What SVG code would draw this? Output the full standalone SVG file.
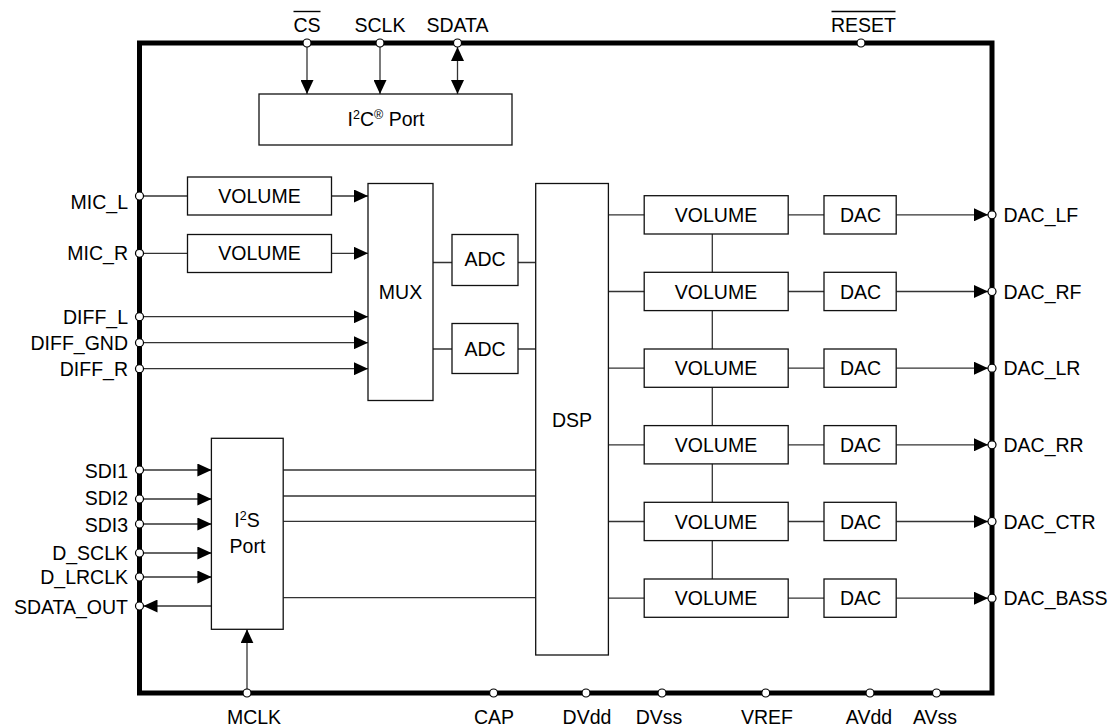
<svg xmlns="http://www.w3.org/2000/svg" width="1110" height="728" viewBox="0 0 1110 728">
<style>
text{font-family:"Liberation Sans",Arial,sans-serif;font-size:19.5px;fill:#000}
.m{text-anchor:middle}
.e{text-anchor:end}
.box{fill:#fff;stroke:#111;stroke-width:1.3}
.ln{stroke:#333;stroke-width:1.3;fill:none}
.arr{marker-end:url(#ah)}
.pin{fill:#fff;stroke:#000;stroke-width:1.2}
.ol{stroke:#000;stroke-width:1.4}
</style>
<defs>
<marker id="ah" viewBox="0 0 14 13" markerUnits="userSpaceOnUse" markerWidth="14" markerHeight="13" refX="14" refY="6.5" orient="auto-start-reverse">
<path d="M0,0 L14,6.5 L0,13 z" fill="#000"/>
</marker>
</defs>
<rect id="frame" x="139.5" y="43" width="852.5" height="650" fill="none" stroke="#000" stroke-width="5"/>
<g id="connectors">
<line class="ln arr" x1="307" y1="47" x2="307" y2="94"/>
<line class="ln arr" x1="380" y1="47" x2="380" y2="94"/>
<line class="ln arr" x1="457.5" y1="47" x2="457.5" y2="94" marker-start="url(#ah)"/>
<line class="ln" x1="143.5" y1="196" x2="187.5" y2="196"/>
<line class="ln arr" x1="331.5" y1="196" x2="368" y2="196"/>
<line class="ln" x1="143.5" y1="253.3" x2="187.5" y2="253.3"/>
<line class="ln arr" x1="331.5" y1="253.3" x2="368" y2="253.3"/>
<line class="ln arr" x1="143.5" y1="316.7" x2="368" y2="316.7"/>
<line class="ln arr" x1="143.5" y1="342.7" x2="368" y2="342.7"/>
<line class="ln arr" x1="143.5" y1="368.7" x2="368" y2="368.7"/>
<line class="ln" x1="433" y1="262.5" x2="535.7" y2="262.5"/>
<line class="ln" x1="433" y1="349" x2="535.7" y2="349"/>
<line class="ln" x1="712.3" y1="234" x2="712.3" y2="578.9"/>
<line class="ln" x1="608.4" y1="214.8" x2="824" y2="214.8"/>
<line class="ln" x1="608.4" y1="291.5" x2="824" y2="291.5"/>
<line class="ln" x1="608.4" y1="368.2" x2="824" y2="368.2"/>
<line class="ln" x1="608.4" y1="444.8" x2="824" y2="444.8"/>
<line class="ln" x1="608.4" y1="521.5" x2="824" y2="521.5"/>
<line class="ln" x1="608.4" y1="598.2" x2="824" y2="598.2"/>
<line class="ln arr" x1="896.2" y1="214.8" x2="988" y2="214.8"/>
<line class="ln arr" x1="896.2" y1="291.5" x2="988" y2="291.5"/>
<line class="ln arr" x1="896.2" y1="368.2" x2="988" y2="368.2"/>
<line class="ln arr" x1="896.2" y1="444.8" x2="988" y2="444.8"/>
<line class="ln arr" x1="896.2" y1="521.5" x2="988" y2="521.5"/>
<line class="ln arr" x1="896.2" y1="598.2" x2="988" y2="598.2"/>
<line class="ln arr" x1="143.5" y1="470" x2="211.4" y2="470"/>
<line class="ln arr" x1="143.5" y1="499" x2="211.4" y2="499"/>
<line class="ln arr" x1="143.5" y1="524" x2="211.4" y2="524"/>
<line class="ln arr" x1="143.5" y1="553" x2="211.4" y2="553"/>
<line class="ln arr" x1="143.5" y1="577" x2="211.4" y2="577"/>
<line class="ln arr" x1="211.4" y1="606" x2="143.5" y2="606"/>
<line class="ln" x1="283.2" y1="470" x2="535.7" y2="470"/>
<line class="ln" x1="283.2" y1="496" x2="535.7" y2="496"/>
<line class="ln" x1="283.2" y1="521.3" x2="535.7" y2="521.3"/>
<line class="ln" x1="283.2" y1="597.7" x2="535.7" y2="597.7"/>
<line class="ln arr" x1="247" y1="689" x2="247" y2="629.3"/>
</g>
<g id="i2c"><rect class="box" x="259" y="94" width="253" height="51"/><text class="m" x="386" y="126">I<tspan font-size="12.5" dy="-7">2</tspan><tspan dy="7">C</tspan><tspan font-size="12.5" dy="-7">®</tspan><tspan dy="7"> Port</tspan></text></g>
<g id="vol_mic_l"><rect class="box" x="187.5" y="177" width="144" height="38"/><text class="m" x="259.5" y="203">VOLUME</text></g>
<g id="vol_mic_r"><rect class="box" x="187.5" y="234.5" width="144" height="38"/><text class="m" x="259.5" y="260">VOLUME</text></g>
<g id="mux"><rect class="box" x="368" y="183.5" width="65" height="217"/><text class="m" x="400.5" y="298.5">MUX</text></g>
<g id="adc1"><rect class="box" x="452" y="234.5" width="66" height="51"/><text class="m" x="485" y="266">ADC</text></g>
<g id="adc2"><rect class="box" x="452" y="323.5" width="66" height="50"/><text class="m" x="485" y="355.5">ADC</text></g>
<g id="dsp"><rect class="box" x="535.7" y="183.5" width="72.7" height="471.5"/><text class="m" x="572" y="426.5">DSP</text></g>
<g id="vol1"><rect class="box" x="644.2" y="195.7" width="144" height="38.3"/><text class="m" x="716" y="221.8">VOLUME</text></g>
<g id="vol2"><rect class="box" x="644.2" y="272.3" width="144" height="38.3"/><text class="m" x="716" y="298.5">VOLUME</text></g>
<g id="vol3"><rect class="box" x="644.2" y="349" width="144" height="38.3"/><text class="m" x="716" y="375.2">VOLUME</text></g>
<g id="vol4"><rect class="box" x="644.2" y="425.6" width="144" height="38.3"/><text class="m" x="716" y="451.8">VOLUME</text></g>
<g id="vol5"><rect class="box" x="644.2" y="502.3" width="144" height="38.3"/><text class="m" x="716" y="528.5">VOLUME</text></g>
<g id="vol6"><rect class="box" x="644.2" y="579" width="144" height="38.3"/><text class="m" x="716" y="605.2">VOLUME</text></g>
<g id="dac1"><rect class="box" x="824" y="195.7" width="72.2" height="38.3"/><text class="m" x="860.5" y="221.8">DAC</text></g>
<g id="dac2"><rect class="box" x="824" y="272.3" width="72.2" height="38.3"/><text class="m" x="860.5" y="298.5">DAC</text></g>
<g id="dac3"><rect class="box" x="824" y="349" width="72.2" height="38.3"/><text class="m" x="860.5" y="375.2">DAC</text></g>
<g id="dac4"><rect class="box" x="824" y="425.6" width="72.2" height="38.3"/><text class="m" x="860.5" y="451.8">DAC</text></g>
<g id="dac5"><rect class="box" x="824" y="502.3" width="72.2" height="38.3"/><text class="m" x="860.5" y="528.5">DAC</text></g>
<g id="dac6"><rect class="box" x="824" y="579" width="72.2" height="38.3"/><text class="m" x="860.5" y="605.2">DAC</text></g>
<g id="i2s"><rect class="box" x="211.4" y="438.3" width="71.8" height="191"/><text class="m" x="247" y="526.7">I<tspan font-size="12.5" dy="-7">2</tspan><tspan dy="7">S</tspan></text><text class="m" x="247.5" y="552.7">Port</text></g>
<g id="pins">
<circle class="pin" cx="307" cy="43" r="4"/><circle class="pin" cx="380" cy="43" r="4"/><circle class="pin" cx="457.5" cy="43" r="4"/><circle class="pin" cx="861" cy="43" r="4"/>
<circle class="pin" cx="139.5" cy="196" r="4"/><circle class="pin" cx="139.5" cy="253.3" r="4"/><circle class="pin" cx="139.5" cy="316.7" r="4"/><circle class="pin" cx="139.5" cy="342.7" r="4"/><circle class="pin" cx="139.5" cy="368.7" r="4"/>
<circle class="pin" cx="139.5" cy="470" r="4"/><circle class="pin" cx="139.5" cy="499" r="4"/><circle class="pin" cx="139.5" cy="524" r="4"/><circle class="pin" cx="139.5" cy="553" r="4"/><circle class="pin" cx="139.5" cy="577" r="4"/><circle class="pin" cx="139.5" cy="606" r="4"/>
<circle class="pin" cx="992" cy="214.8" r="4"/><circle class="pin" cx="992" cy="291.5" r="4"/><circle class="pin" cx="992" cy="368.2" r="4"/><circle class="pin" cx="992" cy="444.8" r="4"/><circle class="pin" cx="992" cy="521.5" r="4"/><circle class="pin" cx="992" cy="598.2" r="4"/>
<circle class="pin" cx="247" cy="693" r="4"/><circle class="pin" cx="493.6" cy="693" r="4"/><circle class="pin" cx="586" cy="693" r="4"/><circle class="pin" cx="662" cy="693" r="4"/><circle class="pin" cx="765.7" cy="693" r="4"/><circle class="pin" cx="870" cy="693" r="4"/><circle class="pin" cx="936.5" cy="693" r="4"/>
</g>
<g id="labels">
<text class="m" x="307" y="32">CS</text><line class="ol" x1="293.5" y1="11.5" x2="320.5" y2="11.5"/>
<text class="m" x="380" y="32">SCLK</text>
<text class="m" x="457.5" y="32">SDATA</text>
<text class="m" x="863.5" y="32">RESET</text><line class="ol" x1="831.5" y1="11.5" x2="895.5" y2="11.5"/>
<text class="e" x="128" y="209">MIC_L</text>
<text class="e" x="128" y="260">MIC_R</text>
<text class="e" x="128" y="323.5">DIFF_L</text>
<text class="e" x="128" y="349.5">DIFF_GND</text>
<text class="e" x="128" y="375.5">DIFF_R</text>
<text class="e" x="128" y="478">SDI1</text>
<text class="e" x="128" y="505">SDI2</text>
<text class="e" x="128" y="532">SDI3</text>
<text class="e" x="128" y="560">D_SCLK</text>
<text class="e" x="128" y="584">D_LRCLK</text>
<text class="e" x="128" y="614">SDATA_OUT</text>
<text x="1003.5" y="222">DAC_LF</text>
<text x="1003.5" y="298.5">DAC_RF</text>
<text x="1003.5" y="375">DAC_LR</text>
<text x="1003.5" y="452">DAC_RR</text>
<text x="1003.5" y="528.5">DAC_CTR</text>
<text x="1003.5" y="605">DAC_BASS</text>
<text class="m" x="254" y="724">MCLK</text>
<text class="m" x="494" y="724">CAP</text>
<text class="m" x="587" y="724">DVdd</text>
<text class="m" x="659" y="724">DVss</text>
<text class="m" x="767" y="724">VREF</text>
<text class="m" x="869" y="724">AVdd</text>
<text class="m" x="935" y="724">AVss</text>
</g>
</svg>
